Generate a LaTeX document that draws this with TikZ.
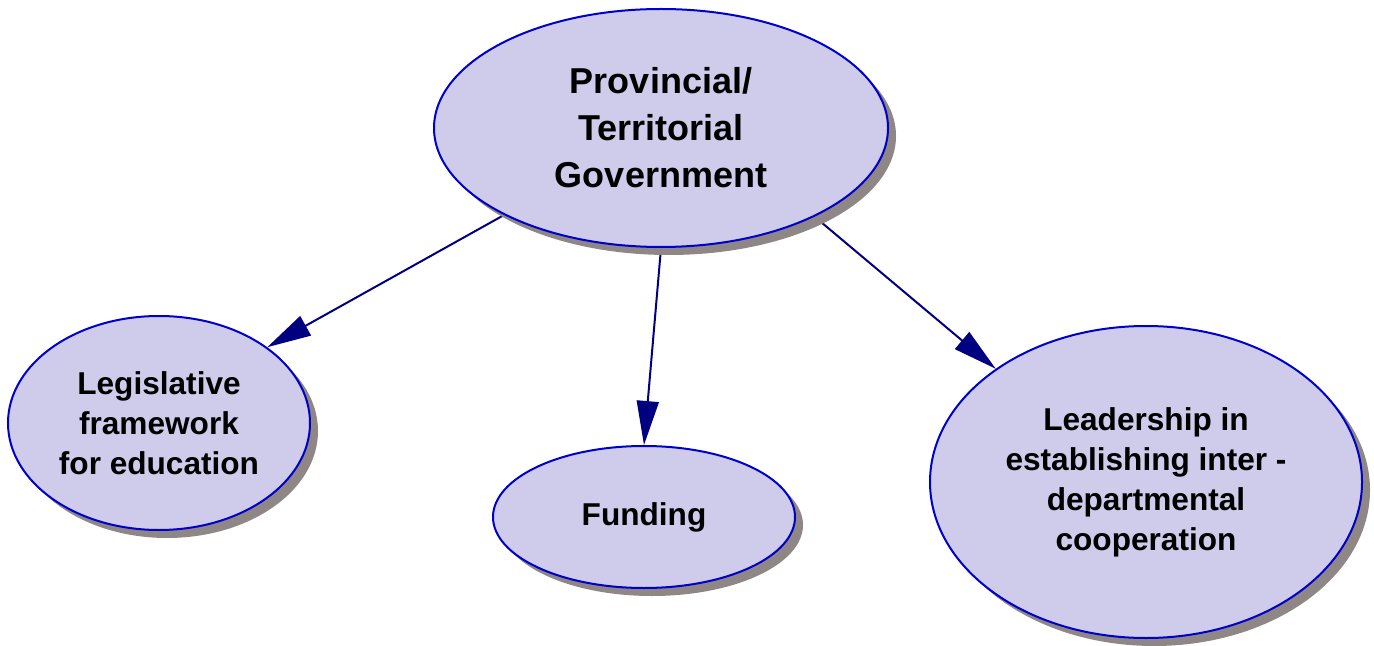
\documentclass[tikz,border=0pt]{standalone}
\usepackage{fontspec}
\setmainfont{Liberation Sans}
\usetikzlibrary{shapes.geometric,arrows.meta}
\usetikzlibrary{shadows,backgrounds}

\definecolor{bubblefill}{RGB}{206,204,234}
\definecolor{bubbleline}{RGB}{0,0,204}
\definecolor{shadowgray}{RGB}{143,134,134}
\definecolor{linknavy}{RGB}{0,0,128}

\begin{document}
\begin{tikzpicture}[x=0.5pt,y=-0.5pt]
% define bubble and arrow types
\tikzstyle{bubble}=[draw=bubbleline, line width=1pt, ellipse, fill=bubblefill,
    inner sep=0pt, align=center, font=\bfseries,
    drop shadow={fill=shadowgray, opacity=1, shadow xshift=4pt, shadow yshift=-4pt}]
\tikzstyle{link}=[line width=1pt, draw=linknavy,
    -{Triangle[length=22pt,width=11pt,fill=linknavy]}]
\useasboundingbox (0,0) rectangle (1374,646);
% bubbles
\node[bubble, minimum width=227pt, minimum height=119pt,
    font=\fontsize{18pt}{23.5pt}\bfseries] (gov) at (661,128)
    {Provincial/\\Territorial\\Government};
\node[bubble, minimum width=151pt, minimum height=107pt,
    font=\fontsize{15.8pt}{20pt}\bfseries] (law) at (159,423)
    {Legislative\\framework\\for education};
\node[bubble, minimum width=151pt, minimum height=71pt,
    font=\fontsize{15.8pt}{20pt}\bfseries] (funding) at (644,517)
    {Funding};
\node[bubble, minimum width=216pt, minimum height=156pt,
    font=\fontsize{15.8pt}{20pt}\bfseries] (lead) at (1146,482)
    {Leadership in\\establishing inter -\\departmental\\cooperation};
% arrows, behind the shadows
\begin{scope}[on background layer]
\draw[link] (gov.209.8) -- (law.35.2);
\draw[link] (gov.270) -- (funding.90);
\draw[link] (gov.330.4) -- (lead.143.1);
\end{scope}
\end{tikzpicture}
\end{document}
